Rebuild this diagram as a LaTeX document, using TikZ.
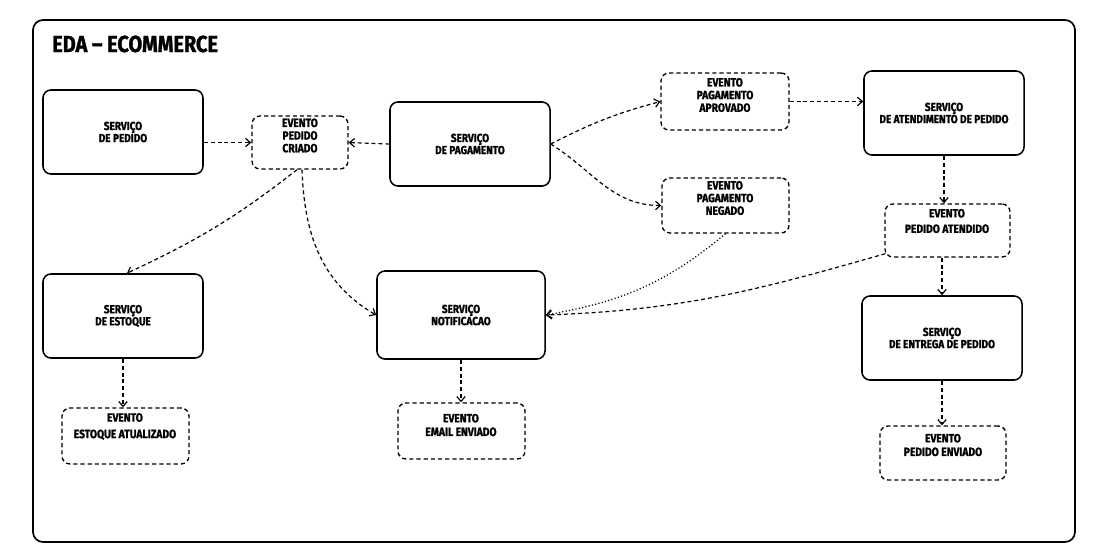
\documentclass[tikz,border=0pt]{standalone}
\usepackage{fontspec}
\setmainfont{Fira Sans}[FakeStretch=0.86, BoldFeatures={FakeBold=1.2}]
\usetikzlibrary{arrows.meta,calc}
\begin{document}
\begin{tikzpicture}[x=0.025cm,y=0.025cm,
  svc/.style={draw, line width=1.1pt, rounded corners=0.2cm, inner sep=0, minimum width=4cm, minimum height=2.1cm},
  evt/.style={draw, line width=0.95pt, dash pattern=on 3pt off 2.1pt, rounded corners=0.2cm, inner sep=0},
  lbl/.style={font=\bfseries\fontsize{8.3}{8.6}\selectfont, align=center, inner sep=0},
  elbl/.style={font=\bfseries\fontsize{8.5}{9}\selectfont, align=center, inner sep=0},
  conn/.style={line width=0.85pt, dash pattern=on 2.8pt off 2.1pt, -{Straight Barb[length=3.5pt,width=6pt]}},
  dconn/.style={line width=0.9pt, dash pattern=on 0.8pt off 1.6pt, -{Straight Barb[length=3.5pt,width=6pt]}},
]
\path[use as bounding box] (0,0) rectangle (1100,-545);
\draw[line width=1.2pt, rounded corners=0.25cm] (33,-20) rectangle (1075,-542);
\node[font=\bfseries\fontsize{16.5}{17}\selectfont, anchor=west, inner sep=0] (title) at (52,-44) {EDA – ECOMMERCE};

% services
\node[svc] (pedido) at (123,-132) {};
\node[lbl] (pedidoT) at (pedido) {SERVIÇO\\DE PEDIDO};
\node[svc] (pagamento) at (470,-144) {};
\node[lbl] (pagamentoT) at (pagamento) {SERVIÇO\\DE PAGAMENTO};
\node[svc] (atend) at (944,-113) {};
\node[lbl] (atendT) at (atend) {SERVIÇO\\DE ATENDIMENTO DE PEDIDO};
\node[svc] (estoque) at (123,-316) {};
\node[lbl] (estoqueT) at (estoque) {SERVIÇO\\DE ESTOQUE};
\node[svc, minimum width=4.2cm, minimum height=2.2cm] (notif) at (461,-315) {};
\node[lbl] (notifT) at (notif) {SERVIÇO\\NOTIFICACAO};
\node[svc] (entrega) at (942,-338) {};
\node[lbl] (entregaT) at (entrega) {SERVIÇO\\DE ENTREGA DE PEDIDO};

% events
\node[evt, minimum width=2.4cm, minimum height=1.325cm] (pcriado) at (300,-142.5) {};
\node[elbl] (pcriadoT) at (300,-135.5) {EVENTO\\PEDIDO\\CRIADO};
\node[evt, minimum width=3.2cm, minimum height=1.425cm] (aprov) at (725,-101.5) {};
\node[elbl] (aprovT) at (725,-95) {EVENTO\\PAGAMENTO\\APROVADO};
\node[evt, minimum width=3.175cm, minimum height=1.375cm] (negado) at (725.5,-205.5) {};
\node[elbl] (negadoT) at (725,-198) {EVENTO\\PAGAMENTO\\NEGADO};
\node[evt, minimum width=3.125cm, minimum height=1.325cm] (patend) at (947.5,-230.5) {};
\node[elbl] (patendT) at (947,-221) {EVENTO\\[2pt]PEDIDO ATENDIDO};
\node[evt, minimum width=3.175cm, minimum height=1.4cm] (eatual) at (125.5,-436) {};
\node[elbl] (eatualT) at (125,-426.5) {EVENTO\\[2.7pt]ESTOQUE ATUALIZADO};
\node[evt, minimum width=3.175cm, minimum height=1.4cm] (email) at (461.5,-431) {};
\node[elbl] (emailT) at (461,-425) {EVENTO\\[0.7pt]EMAIL ENVIADO};
\node[evt, minimum width=3.15cm, minimum height=1.35cm] (penv) at (943,-453) {};
\node[elbl] (penvT) at (943,-445) {EVENTO\\[0.7pt]PEDIDO ENVIADO};

% connectors
\draw[conn] (pedido.east |- pcriado.west) -- (pcriado.west);
\draw[conn] (pagamento.west) -- (pcriado.east);
\draw[conn] (pagamento.east) to[bend left=6] (aprov.west);
\draw[conn] (pagamento.east) to[out=-32,in=180] (negado.west);
\draw[conn] (aprov.east) -- (atend.west |- aprov.east);
\draw[conn] (atend.south) -- (atend.south |- patend.north);
\draw[conn] (patend.south -| entrega.north) -- (entrega.north);
\draw[conn] ([shift={(1,4)}]patend.south west) to[out=196,in=2] (notif.east);
\draw[dconn] (negado.south) to[out=220,in=10] (notif.east);
\draw[conn] ([shift={(-3,0)}]pcriado.south) to[out=218,in=25] ([shift={(4,0)}]estoque.north);
\draw[conn] ([shift={(2,0)}]pcriado.south) to[out=-88,in=150] (notif.west);
\draw[conn] (estoque.south) -- (estoque.south |- eatual.north);
\draw[conn] (notif.south) -- (notif.south |- email.north);
\draw[conn] (entrega.south) -- (entrega.south |- penv.north);
\end{tikzpicture}
\end{document}
